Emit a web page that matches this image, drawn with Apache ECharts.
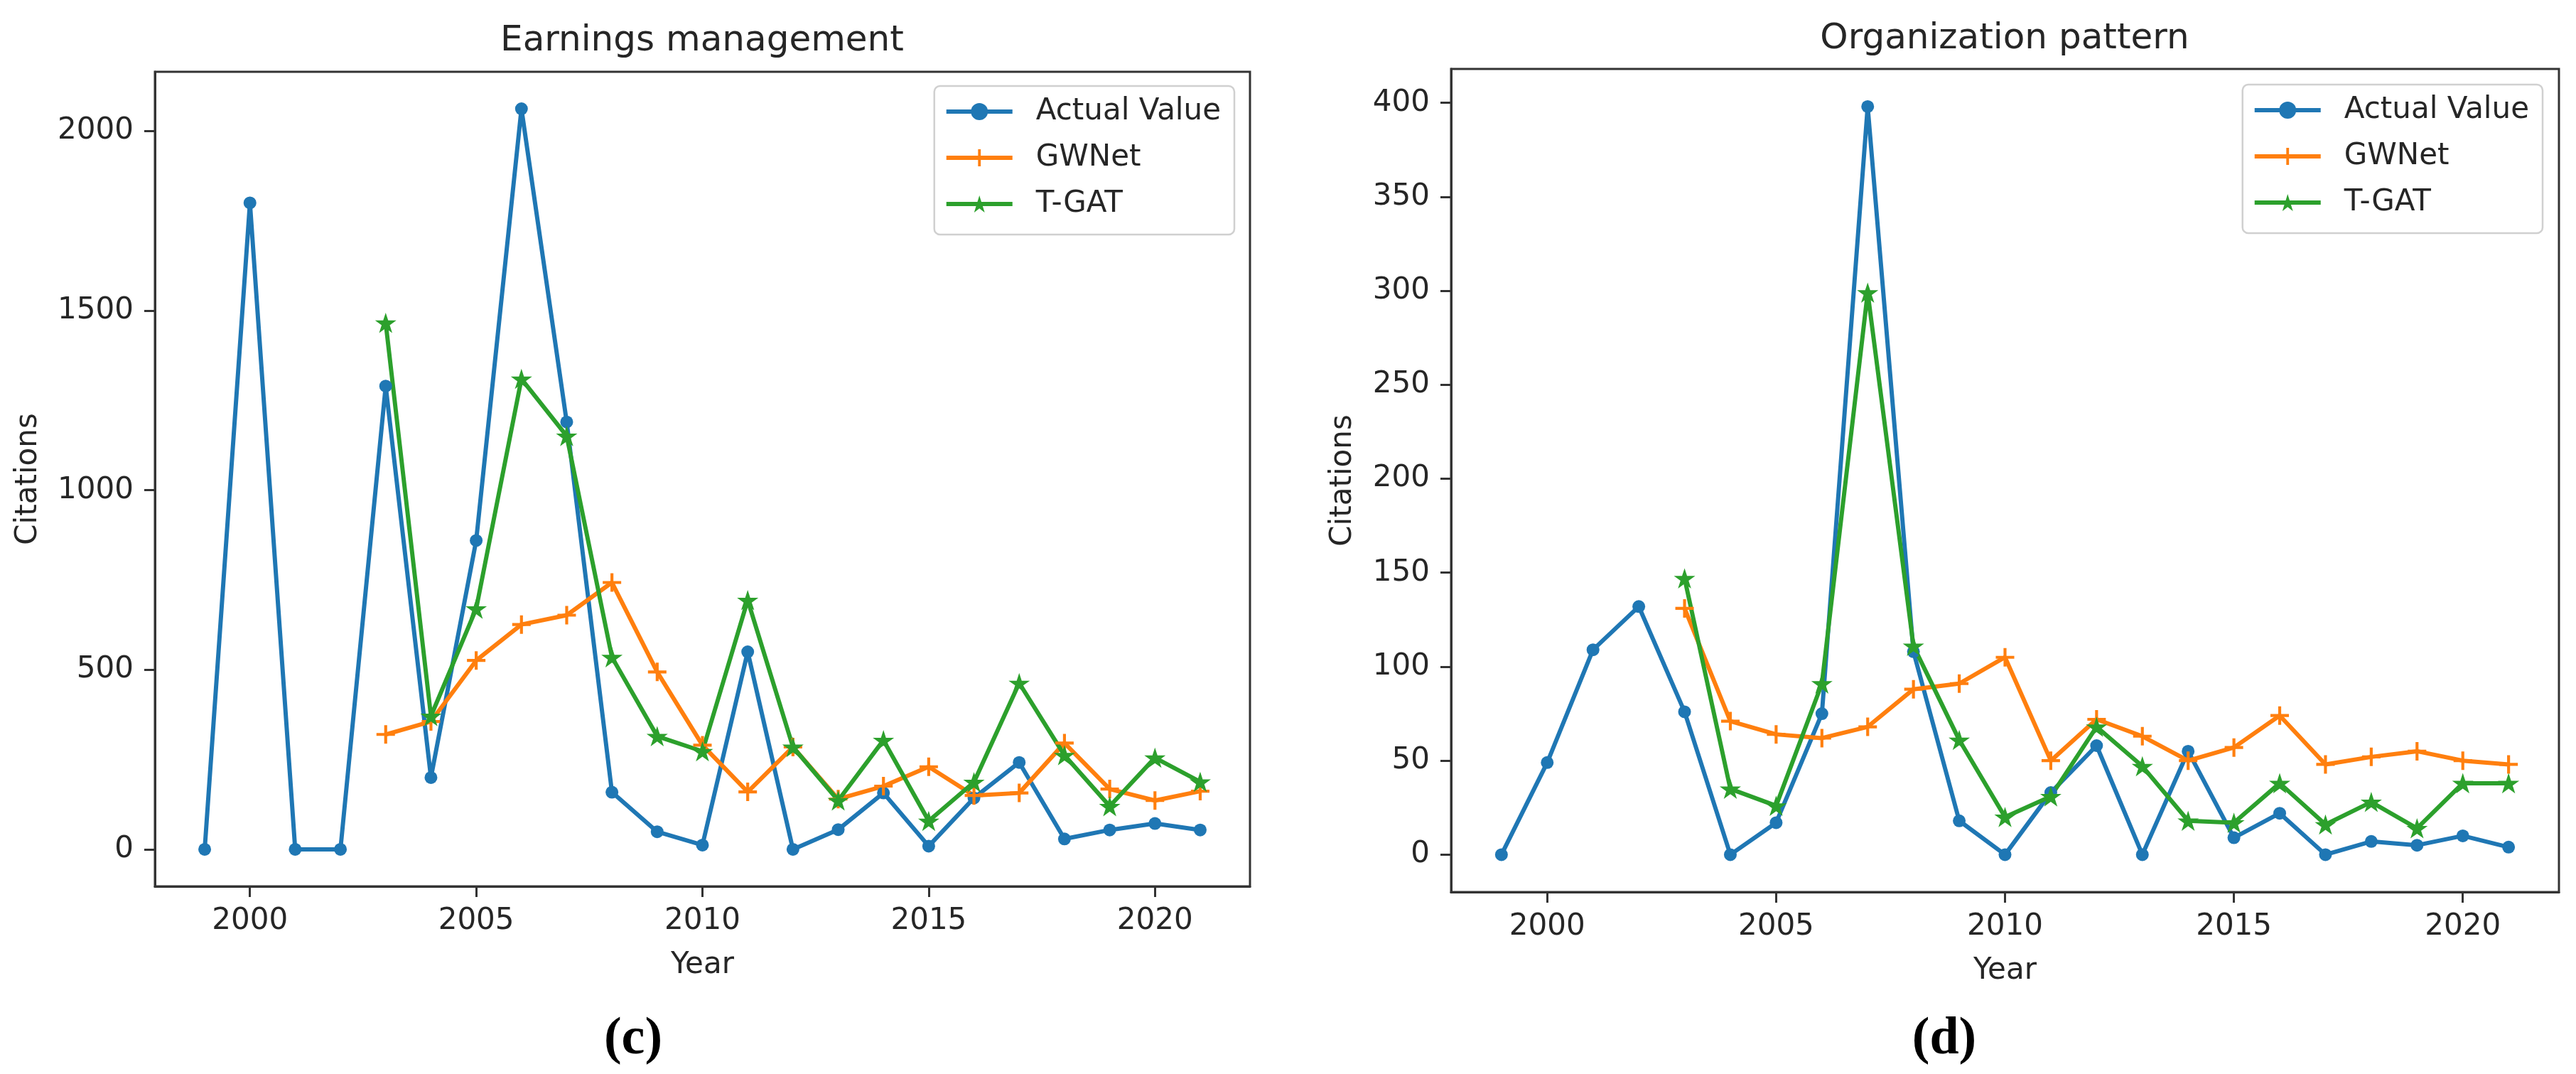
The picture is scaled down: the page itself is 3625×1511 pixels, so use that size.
<!DOCTYPE html>
<html>
<head>
<meta charset="utf-8">
<script src="https://cdn.jsdelivr.net/npm/echarts@6/dist/echarts.min.js"></script>
<style>
  html, body { margin: 0; padding: 0; background: #ffffff; }
  #chart { width: 3625px; height: 1511px; }
</style>
</head>
<body>
<div id="chart"></div>
<script>
// ---- data ----
const years = [1999, 2000, 2001, 2002, 2003, 2004, 2005, 2006, 2007, 2008, 2009, 2010, 2011, 2012, 2013, 2014, 2015, 2016, 2017, 2018, 2019, 2020, 2021];
const predYears = [2003, 2004, 2005, 2006, 2007, 2008, 2009, 2010, 2011, 2012, 2013, 2014, 2015, 2016, 2017, 2018, 2019, 2020, 2021];

// Earnings management
const emActual = [0, 1800, 0, 0, 1290, 200, 860, 2062, 1190, 159, 49, 12, 550, 0, 55, 157, 9, 143, 242, 29, 54, 72, 54];
const emGWNet  = [320, 356, 526, 626, 652, 743, 494, 290, 160, 285, 140, 176, 230, 150, 157, 296, 168, 136, 162];
const emTGAT   = [1466, 371, 670, 1310, 1151, 535, 315, 273, 694, 285, 136, 304, 79, 187, 463, 262, 120, 255, 188];

// Organization pattern
const opActual = [0, 49, 109, 132, 76, 0, 17, 75, 398, 108, 18, 0, 33, 58, 0, 55, 9, 22, 0, 7, 5, 10, 4];
const opGWNet  = [131, 71, 64, 62, 68, 88, 91, 105, 50, 72, 63, 50, 57, 74, 48, 52, 55, 50, 48];
const opTGAT   = [147, 35, 26, 91, 299, 111, 61, 20, 31, 68, 47, 18, 17, 38, 16, 28, 14, 38, 38];

const seriesNames = ['Actual Value', 'GWNet', 'T-GAT'];
const xTicks = [2000, 2005, 2010, 2015, 2020];
const emYTicks = [0, 500, 1000, 1500, 2000];
const opYTicks = [0, 50, 100, 150, 200, 250, 300, 350, 400];
const titles = ['Earnings management', 'Organization pattern'];

// ---- styling helpers ----
const C_BLUE = '#1f77b4', C_ORANGE = '#ff7f0e', C_GREEN = '#2ca02c';
const TXT = '#262626';
const FONT = 'DejaVu Sans';
const t = 0.16;
const PLUS = 'path://M' + (-t) + ',-1 L' + t + ',-1 L' + t + ',' + (-t) + ' L1,' + (-t) + ' L1,' + t + ' L' + t + ',' + t +
             ' L' + t + ',1 L' + (-t) + ',1 L' + (-t) + ',' + t + ' L-1,' + t + ' L-1,' + (-t) + ' L' + (-t) + ',' + (-t) + ' Z';
const STAR = 'path://M0,-1 L0.2245,-0.309 L0.9511,-0.309 L0.3633,0.118 L0.5878,0.809 L0,0.382 L-0.5878,0.809 L-0.3633,0.118 L-0.9511,-0.309 L-0.2245,-0.309 Z';

function pairs(xs, ys) { return xs.map((x, i) => [x, ys[i]]); }

function mkSeries(name, xs, ys, gi, color, symbol, size) {
  return {
    name: name, type: 'line', xAxisIndex: gi, yAxisIndex: gi,
    data: pairs(xs, ys),
    symbol: symbol, symbolSize: size, symbolKeepAspect: true, showSymbol: true, showAllSymbol: true,
    lineStyle: { color: color, width: 6 },
    itemStyle: { color: color, borderWidth: 0 },
    emphasis: { disabled: true },
    clip: false
  };
}

function mkX(gi) {
  return {
    gridIndex: gi, type: 'value', min: 1997.9, max: 2022.1,
    splitLine: { show: false },
    axisLine: { show: true, onZero: false, lineStyle: { color: '#333', width: 3 } },
    axisTick: { show: true, customValues: xTicks, length: 15, lineStyle: { color: '#333', width: 3 } },
    axisLabel: { show: true, customValues: xTicks, formatter: v => String(v), fontSize: 42, color: TXT, fontFamily: FONT, margin: 28 },
    name: 'Year', nameLocation: 'middle', nameGap: 90,
    nameTextStyle: { fontSize: 42, color: TXT, fontFamily: FONT }
  };
}

function mkY(gi, min, max, ticks, gap) {
  return {
    gridIndex: gi, type: 'value', min: min, max: max,
    splitLine: { show: false },
    axisLine: { show: true, onZero: false, lineStyle: { color: '#333', width: 3 } },
    axisTick: { show: true, customValues: ticks, length: 15, lineStyle: { color: '#333', width: 3 } },
    axisLabel: { show: true, customValues: ticks, formatter: v => String(v), fontSize: 42, color: TXT, fontFamily: FONT, margin: 30 },
    name: 'Citations', nameLocation: 'middle', nameGap: gap,
    nameTextStyle: { fontSize: 42, color: TXT, fontFamily: FONT }
  };
}

function mkLegend(right, top) {
  return {
    orient: 'vertical', right: right, top: top,
    data: seriesNames,
    itemWidth: 93, itemHeight: 30, itemGap: 17,
    padding: [12, 19, 19, 14],
    borderColor: '#d0d0d0', borderWidth: 2.5, borderRadius: 8,
    backgroundColor: 'rgba(255,255,255,0.8)',
    selectedMode: false,
    lineStyle: { width: 6 },
    textStyle: { fontSize: 42, lineHeight: 48, color: TXT, fontFamily: FONT, padding: [0, 0, 0, 28] }
  };
}

const option = {
  animation: false,
  backgroundColor: '#ffffff',
  title: [
    { text: titles[0], left: 988, top: 33, textAlign: 'center', padding: 0,
      textStyle: { fontSize: 50, fontWeight: 'normal', color: TXT, fontFamily: FONT, lineHeight: 50 } },
    { text: titles[1], left: 2821, top: 30, textAlign: 'center', padding: 0,
      textStyle: { fontSize: 50, fontWeight: 'normal', color: TXT, fontFamily: FONT, lineHeight: 50 } },
    { text: '{p|(}{b|c}{p|)}', left: 891, top: 1423, textAlign: 'center', padding: 0,
      textStyle: { rich: {
        p: { fontFamily: 'Liberation Serif', fontSize: 74, color: '#000', lineHeight: 80 },
        b: { fontFamily: 'Liberation Serif', fontSize: 74, fontWeight: 'bold', color: '#000', lineHeight: 80 } } } },
    { text: '{p|(}{b|d}{p|)}', left: 2736, top: 1423, textAlign: 'center', padding: 0,
      textStyle: { rich: {
        p: { fontFamily: 'Liberation Serif', fontSize: 74, color: '#000', lineHeight: 80 },
        b: { fontFamily: 'Liberation Serif', fontSize: 74, fontWeight: 'bold', color: '#000', lineHeight: 80 } } } }
  ],
  grid: [
    { left: 218, top: 101, width: 1541, height: 1146, show: true, borderColor: '#333', borderWidth: 3, backgroundColor: 'transparent' },
    { left: 2042, top: 97, width: 1559, height: 1158, show: true, borderColor: '#333', borderWidth: 3, backgroundColor: 'transparent' }
  ],
  legend: [ mkLegend(1888, 121), mkLegend(47, 119) ],
  xAxis: [ mkX(0), mkX(1) ],
  yAxis: [ mkY(0, -103, 2165, emYTicks, 157), mkY(1, -19.9, 418, opYTicks, 131) ],
  series: [
    mkSeries(seriesNames[0], years, emActual, 0, C_BLUE, 'circle', 18),
    mkSeries(seriesNames[1], predYears, emGWNet, 0, C_ORANGE, PLUS, 26),
    mkSeries(seriesNames[2], predYears, emTGAT, 0, C_GREEN, STAR, 30),
    mkSeries(seriesNames[0], years, opActual, 1, C_BLUE, 'circle', 18),
    mkSeries(seriesNames[1], predYears, opGWNet, 1, C_ORANGE, PLUS, 26),
    mkSeries(seriesNames[2], predYears, opTGAT, 1, C_GREEN, STAR, 30)
  ]
};

const chart = echarts.init(document.getElementById('chart'), null, { renderer: 'canvas' });
chart.setOption(option);
</script>
</body>
</html>
